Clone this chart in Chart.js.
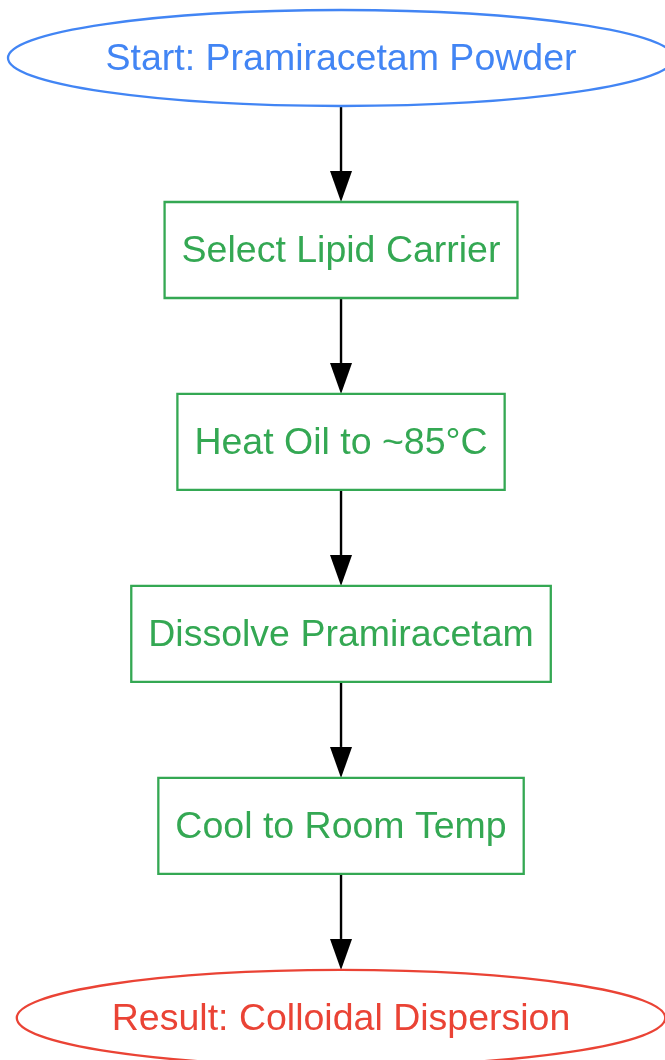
<!DOCTYPE html>
<html lang="en">
<head>
    <meta charset="UTF-8">
    <title>Pramiracetam lipid dispersion flow</title>
    <script src="https://cdn.jsdelivr.net/npm/chart.js"></script>
    <style>
        body { margin: 0; background: #fff; }
        canvas { display: block; }
    </style>
</head>
<body>
    <canvas id="chart" width="665" height="1060"></canvas>

    <script>
        // nodes of the flow, top to bottom
        const nodeLabels = [
            'Start: Pramiracetam Powder',
            'Select Lipid Carrier',
            'Heat Oil to ~85°C',
            'Dissolve Pramiracetam',
            'Cool to Room Temp',
            'Result: Colloidal Dispersion'
        ];
        const nodeRank = [0, 1, 2, 3, 4, 5];
        const nodeKind = ['start', 'step', 'step', 'step', 'step', 'end'];

        // edges (index into nodes)
        const edgeFrom = [0, 1, 2, 3, 4];
        const edgeTo = [1, 2, 3, 4, 5];

        const kindColor = { start: '#4285F4', step: '#34A853', end: '#EA4335' };
        const FONT = '37.5px "Liberation Sans", Arial, sans-serif';
        const HALF_H = 48;   // half node height
        const PAD_X = 17;

        const flowPlugin = {
            id: 'flow',
            afterDatasetsDraw(chart) {
                const ctx = chart.ctx;
                const pts = chart.getDatasetMeta(0).data;
                ctx.save();
                ctx.font = FONT;

                // arrows
                ctx.strokeStyle = '#000';
                ctx.fillStyle = '#000';
                ctx.lineWidth = 2.4;
                for (let i = 0; i < edgeFrom.length; i++) {
                    const a = pts[edgeFrom[i]], b = pts[edgeTo[i]];
                    const y0 = a.y + HALF_H, y1 = b.y - HALF_H;
                    const headLen = 31, headW = 11;
                    ctx.beginPath();
                    ctx.moveTo(a.x, y0);
                    ctx.lineTo(b.x, y1 - headLen);
                    ctx.stroke();
                    ctx.beginPath();
                    ctx.moveTo(b.x, y1);
                    ctx.lineTo(b.x - headW, y1 - headLen);
                    ctx.lineTo(b.x + headW, y1 - headLen);
                    ctx.closePath();
                    ctx.fill();
                }

                // nodes
                ctx.lineWidth = 2.3;
                ctx.textAlign = 'center';
                ctx.textBaseline = 'middle';
                pts.forEach((p, i) => {
                    const color = kindColor[nodeKind[i]];
                    const tw = ctx.measureText(nodeLabels[i]).width;
                    ctx.strokeStyle = color;
                    ctx.fillStyle = '#fff';
                    ctx.beginPath();
                    if (nodeKind[i] === 'step') {
                        const w = tw + 2 * PAD_X;
                        ctx.rect(p.x - w / 2, p.y - HALF_H, w, 2 * HALF_H);
                    } else {
                        ctx.ellipse(p.x, p.y, tw / 2 * Math.SQRT2, HALF_H, 0, 0, Math.PI * 2);
                    }
                    ctx.fill();
                    ctx.stroke();
                    ctx.fillStyle = color;
                    ctx.fillText(nodeLabels[i], p.x, p.y + 2);
                });
                ctx.restore();
            }
        };

        new Chart(document.getElementById('chart').getContext('2d'), {
            type: 'scatter',
            data: {
                datasets: [{
                    data: nodeRank.map(r => ({ x: 0, y: r })),
                    pointRadius: 0,
                    pointHoverRadius: 0
                }]
            },
            options: {
                responsive: false,
                animation: false,
                events: [],
                layout: { padding: 0 },
                plugins: { legend: { display: false }, tooltip: { enabled: false } },
                scales: {
                    x: { display: false, min: -1, max: 0.95 },
                    y: { display: false, reverse: true, min: -0.302, max: 5.219 }
                }
            },
            plugins: [flowPlugin]
        });
    </script>
</body>
</html>
